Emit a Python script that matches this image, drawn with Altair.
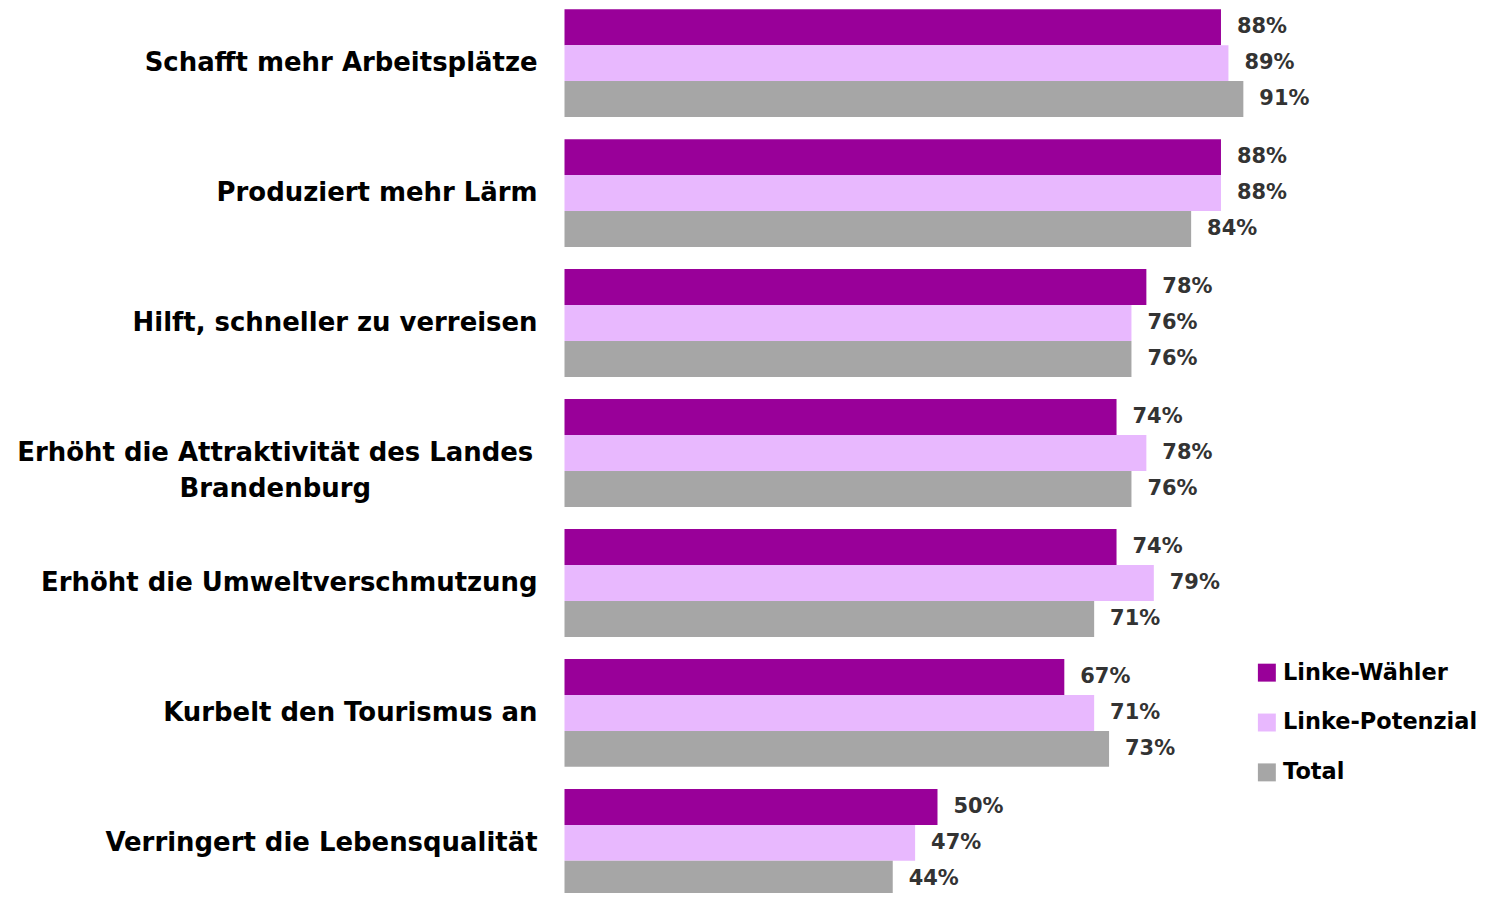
import altair as alt
import pandas as pd

categories = [
    "Schafft mehr Arbeitsplätze",
    "Produziert mehr Lärm",
    "Hilft, schneller zu verreisen",
    "Erhöht die Attraktivität des Landes\nBrandenburg",
    "Erhöht die Umweltverschmutzung",
    "Kurbelt den Tourismus an",
    "Verringert die Lebensqualität",
]
series_names = ["Linke-Wähler", "Linke-Potenzial", "Total"]
linke_waehler = [88, 88, 78, 74, 74, 67, 50]
linke_potenzial = [89, 88, 76, 78, 79, 71, 47]
total = [91, 84, 76, 76, 71, 73, 44]
colors = ["#990099", "#E8B8FE", "#A6A6A6"]

rows = []
for i, c in enumerate(categories):
    for s, vals in zip(series_names, [linke_waehler, linke_potenzial, total]):
        rows.append({"cat": c, "series": s, "value": vals[i], "label": f"{vals[i]}%"})
df = pd.DataFrame(rows)
cat_df = pd.DataFrame({"cat": categories, "multi": ["\n" in c for c in categories]})

FONT = "DejaVu Sans"

yscale = alt.Scale(paddingInner=0.17, paddingOuter=0, range=[0, 890])
y_enc = alt.Y("cat:N", sort=categories, scale=yscale, axis=None)
yoff = alt.YOffset("series:N", sort=series_names, scale=alt.Scale(paddingInner=0, paddingOuter=0))
x_enc = alt.X("value:Q", scale=alt.Scale(domain=[0, 100]), axis=None)

bars = alt.Chart(df).mark_bar().encode(
    y=y_enc,
    yOffset=yoff,
    x=x_enc,
    color=alt.Color(
        "series:N",
        sort=series_names,
        scale=alt.Scale(domain=series_names, range=colors),
        legend=alt.Legend(
            title=None,
            orient="none",
            legendX=693,
            legendY=654,
            symbolType="square",
            symbolSize=324,
            symbolStrokeWidth=0,
            symbolOpacity=1,
            labelFont=FONT,
            labelFontSize=22.5,
            labelFontWeight="bold",
            labelColor="#000000",
            labelOffset=5,
            labelLimit=0,
            rowPadding=27,
            padding=0,
        ),
    ),
)

values = alt.Chart(df).mark_text(
    align="left", baseline="middle", dx=16,
    font=FONT, fontSize=21, fontWeight="bold", color="#333333",
).encode(y=y_enc, yOffset=yoff, x=x_enc, text="label:N")

labels_single = alt.Chart(cat_df).transform_filter("!datum.multi").mark_text(
    align="right", baseline="middle",
    font=FONT, fontSize=26, fontWeight="bold", color="#000000",
).encode(y=y_enc, x=alt.value(-27), text="cat:N")

labels_multi = alt.Chart(cat_df).transform_filter("datum.multi").mark_text(
    align="center", baseline="middle", lineBreak="\n", lineHeight=36,
    font=FONT, fontSize=26, fontWeight="bold", color="#000000",
).encode(y=y_enc, x=alt.value(-290), text="cat:N")

chart = alt.layer(bars, values, labels_single, labels_multi).properties(
    width=748,
    height=885,
    padding={"left": 558, "top": 0, "right": 183, "bottom": 0},
    autosize=alt.AutoSizeParams(type="none"),
).configure_view(stroke=None)

chart.save("out.html", embed_options={"renderer": "svg", "actions": False})
